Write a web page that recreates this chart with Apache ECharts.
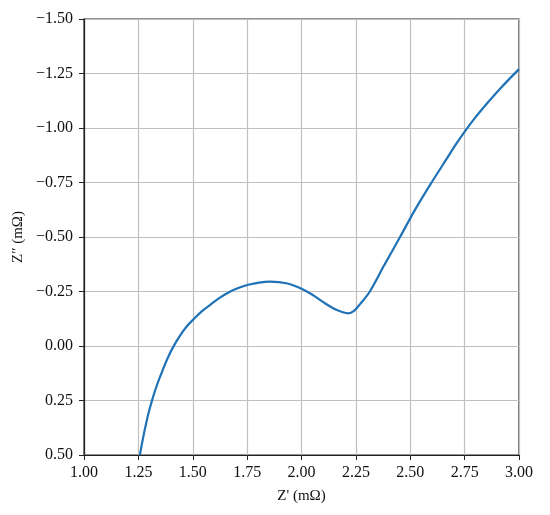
<!DOCTYPE html>
<html>
<head>
<meta charset="utf-8">
<script src="https://cdn.jsdelivr.net/npm/echarts@6/dist/echarts.min.js"></script>
<style>html,body{margin:0;padding:0;background:#fff}#c{width:550px;height:515px}</style>
</head>
<body>
<div id="c"></div>
<script>
const zReal = [1.257, 1.270, 1.285, 1.300, 1.318, 1.338, 1.360, 1.385, 1.411, 1.440, 1.470, 1.503, 1.540, 1.579, 1.625, 1.671, 1.715, 1.755, 1.805, 1.855, 1.930, 2.000, 2.050, 2.100, 2.150, 2.190, 2.215, 2.240, 2.270, 2.315, 2.380, 2.453, 2.525, 2.598, 2.667, 2.712, 2.752, 2.795, 2.836, 2.913, 3.000];
const zImag = [0.500, 0.430, 0.358, 0.295, 0.232, 0.172, 0.115, 0.055, 0.003, -0.045, -0.087, -0.122, -0.158, -0.188, -0.222, -0.249, -0.268, -0.281, -0.291, -0.295, -0.288, -0.263, -0.235, -0.201, -0.171, -0.155, -0.150, -0.160, -0.193, -0.251, -0.370, -0.500, -0.630, -0.750, -0.858, -0.928, -0.986, -1.043, -1.093, -1.180, -1.270];
const xTicks = [1.00, 1.25, 1.50, 1.75, 2.00, 2.25, 2.50, 2.75, 3.00];
const yTicks = [-1.50, -1.25, -1.00, -0.75, -0.50, -0.25, 0.00, 0.25, 0.50];

const fmt = v => v.toFixed(2).replace('-', '\u2212');
const font = 'Liberation Serif';
const chart = echarts.init(document.getElementById('c'), null, {renderer: 'canvas'});
chart.setOption({
  animation: false,
  backgroundColor: '#fff',
  grid: {left: 84, right: 31, top: 19, bottom: 60, show: true, borderColor: '#222', borderWidth: 1.2, backgroundColor: 'transparent'},
  xAxis: {
    type: 'value', min: xTicks[0], max: xTicks[xTicks.length - 1], interval: 0.25,
    name: "Z' (m\u03A9)", nameLocation: 'middle', nameGap: 34,
    nameTextStyle: {fontFamily: font, fontSize: 15, color: '#111'},
    axisLine: {show: true, onZero: false, lineStyle: {color: '#222', width: 1.2}},
    axisTick: {show: true, length: 5, lineStyle: {color: '#222'}},
    axisLabel: {formatter: fmt, fontFamily: font, fontSize: 16, color: '#111', margin: 10},
    splitLine: {show: true, lineStyle: {color: '#c0c0c0', width: 1.2}}
  },
  yAxis: {
    type: 'value', inverse: true, min: yTicks[0], max: yTicks[yTicks.length - 1], interval: 0.25,
    name: "Z\u2033 (m\u03A9)", nameLocation: 'middle', nameGap: 58, nameRotate: 90,
    nameTextStyle: {fontFamily: font, fontSize: 15, color: '#111'},
    axisLine: {show: true, onZero: false, lineStyle: {color: '#222', width: 1.2}},
    axisTick: {show: true, length: 5, lineStyle: {color: '#222'}},
    axisLabel: {formatter: fmt, fontFamily: font, fontSize: 16, color: '#111', margin: 11},
    splitLine: {show: true, lineStyle: {color: '#c0c0c0', width: 1.2}}
  },
  series: [{
    type: 'line', smooth: 0.35, showSymbol: false, clip: true,
    data: zReal.map((x, i) => [x, zImag[i]]),
    lineStyle: {color: '#1f72b6', width: 2.2}
  }]
});
</script>
</body>
</html>
